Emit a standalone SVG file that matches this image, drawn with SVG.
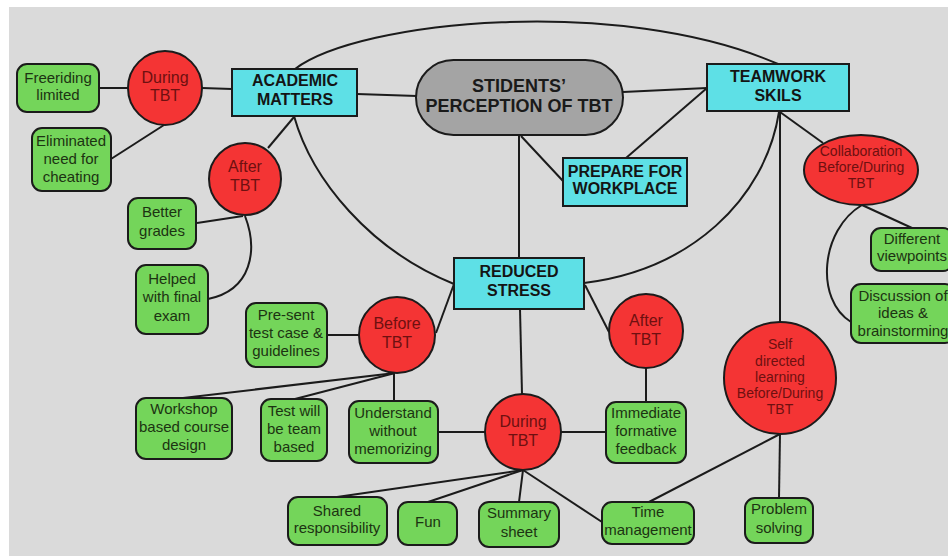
<svg xmlns="http://www.w3.org/2000/svg" width="948" height="556" viewBox="0 0 948 556">
<style>
.bg{fill:#dadada}
.c{fill:none;stroke:#1b1b1b;stroke-width:2}
.cy{fill:#5ee0e6;stroke:#1b1b1b;stroke-width:2}
.rd{fill:#f43434;stroke:#1b1b1b;stroke-width:2}
.gr{fill:#74d55a;stroke:#1b1b1b;stroke-width:2}
.gy{fill:#a4a4a4;stroke:#1b1b1b;stroke-width:2}
text{font-family:"Liberation Sans",Arial,sans-serif;text-anchor:middle}
.tb{font-size:16px;font-weight:bold;fill:#141414}
.tm{font-size:18px;font-weight:bold;fill:#1a1a1a}
.tr{font-size:16px;fill:#6e1010}
.ts{font-size:14px;fill:#6e1010}
.tg{font-size:15px;fill:#1c3312}
</style>
<rect x="0" y="0" width="948" height="556" fill="#ffffff"/>
<rect class="bg" x="9" y="7" width="939" height="549"/>
<g id="connectors">
<path class="c" d="M295,69 C360,20 620,-5 778,64"/>
<path class="c" d="M99,88 L128,88"/>
<path class="c" d="M202,88 L232,89"/>
<path class="c" d="M111,159 L164,125"/>
<path class="c" d="M357,94 L417,96"/>
<path class="c" d="M294,117 L268,148"/>
<path class="c" d="M294,116 C312,180 370,250 454,284"/>
<path class="c" d="M197,223 L243,216"/>
<path class="c" d="M245,216 C258,250 252,290 208,299"/>
<path class="c" d="M519,135 L519,258"/>
<path class="c" d="M521,136 L563,181"/>
<path class="c" d="M623,92 L707,88"/>
<path class="c" d="M626,158 L707,88"/>
<path class="c" d="M779,112 C765,200 690,270 584,283"/>
<path class="c" d="M780,111 L780,322"/>
<path class="c" d="M780,112 L823,143"/>
<path class="c" d="M862,205 L912,228"/>
<path class="c" d="M862,205 C820,230 815,300 851,322"/>
<path class="c" d="M585,285 L609,332"/>
<path class="c" d="M520,309 L522,394"/>
<path class="c" d="M454,284 L436,333"/>
<path class="c" d="M646,368 L646,402"/>
<path class="c" d="M327,335 L359,335"/>
<path class="c" d="M395,373 L183,398"/>
<path class="c" d="M395,373 L295,399"/>
<path class="c" d="M394,373 L394,401"/>
<path class="c" d="M438,432 L485,432"/>
<path class="c" d="M561,432 L606,432"/>
<path class="c" d="M523,470 L337,497"/>
<path class="c" d="M523,470 L428,502"/>
<path class="c" d="M523,470 L519,502"/>
<path class="c" d="M523,470 L602,522"/>
<path class="c" d="M780,434 L649,502"/>
<path class="c" d="M780,434 L779,498"/>
</g>
<g id="freeriding"><rect class="gr" x="17" y="64" width="82" height="48" rx="10"/><text class="tg" x="58" y="83">Freeriding</text><text class="tg" x="58" y="100">limited</text></g>
<g id="during1"><circle class="rd" cx="165" cy="88" r="37"/><text class="tr" x="165" y="83">During</text><text class="tr" x="165" y="101">TBT</text></g>
<g id="eliminated"><rect class="gr" x="32" y="128" width="79" height="63" rx="10"/><text class="tg" x="71" y="146">Eliminated</text><text class="tg" x="71" y="164">need for</text><text class="tg" x="71" y="182">cheating</text></g>
<g id="academic"><rect class="cy" x="232" y="69" width="125" height="47"/><text class="tb" x="295" y="86">ACADEMIC</text><text class="tb" x="295" y="105">MATTERS</text></g>
<g id="center"><rect class="gy" x="416" y="60" width="207" height="75" rx="37.5"/><text class="tm" x="519" y="92">STIDENTS’</text><text class="tm" x="519" y="112">PERCEPTION OF TBT</text></g>
<g id="teamwork"><rect class="cy" x="707" y="64" width="142" height="47"/><text class="tb" x="778" y="82">TEAMWORK</text><text class="tb" x="778" y="101">SKILS</text></g>
<g id="prepare"><rect class="cy" x="563" y="158" width="124" height="48"/><text class="tb" x="625" y="177">PREPARE FOR</text><text class="tb" x="625" y="194">WORKPLACE</text></g>
<g id="collaboration"><ellipse class="rd" cx="861" cy="170" rx="57" ry="35"/><text class="ts" x="861" y="156">Collaboration</text><text class="ts" x="861" y="172">Before/During</text><text class="ts" x="861" y="188">TBT</text></g>
<g id="viewpoints"><rect class="gr" x="871" y="228" width="82" height="43" rx="10"/><text class="tg" x="912" y="244">Different</text><text class="tg" x="912" y="261">viewpoints</text></g>
<g id="discussion"><rect class="gr" x="851" y="284" width="104" height="59" rx="10"/><text class="tg" x="903" y="301">Discussion of</text><text class="tg" x="903" y="318">ideas &amp;</text><text class="tg" x="903" y="336">brainstorming</text></g>
<g id="reduced"><rect class="cy" x="454" y="258" width="130" height="51"/><text class="tb" x="519" y="277">REDUCED</text><text class="tb" x="519" y="296">STRESS</text></g>
<g id="after2"><circle class="rd" cx="646" cy="331" r="37"/><text class="tr" x="646" y="326">After</text><text class="tr" x="646" y="345">TBT</text></g>
<g id="after1"><circle class="rd" cx="245" cy="179" r="36"/><text class="tr" x="245" y="172">After</text><text class="tr" x="245" y="191">TBT</text></g>
<g id="better"><rect class="gr" x="128" y="198" width="68" height="51" rx="10"/><text class="tg" x="162" y="217">Better</text><text class="tg" x="162" y="236">grades</text></g>
<g id="helped"><rect class="gr" x="136" y="265" width="72" height="69" rx="10"/><text class="tg" x="172" y="284">Helped</text><text class="tg" x="172" y="302">with final</text><text class="tg" x="172" y="321">exam</text></g>
<g id="before"><circle class="rd" cx="397" cy="335" r="38"/><text class="tr" x="397" y="329">Before</text><text class="tr" x="397" y="348">TBT</text></g>
<g id="present"><rect class="gr" x="246" y="303" width="81" height="64" rx="10"/><text class="tg" x="286" y="320">Pre-sent</text><text class="tg" x="286" y="338">test case &amp;</text><text class="tg" x="286" y="356">guidelines</text></g>
<g id="workshop"><rect class="gr" x="136" y="398" width="96" height="61" rx="10"/><text class="tg" x="184" y="414">Workshop</text><text class="tg" x="184" y="432">based course</text><text class="tg" x="184" y="450">design</text></g>
<g id="testwill"><rect class="gr" x="261" y="399" width="66" height="62" rx="10"/><text class="tg" x="294" y="416">Test will</text><text class="tg" x="294" y="434">be team</text><text class="tg" x="294" y="452">based</text></g>
<g id="understand"><rect class="gr" x="349" y="401" width="89" height="62" rx="10"/><text class="tg" x="393" y="418">Understand</text><text class="tg" x="393" y="436">without</text><text class="tg" x="393" y="454">memorizing</text></g>
<g id="during2"><circle class="rd" cx="523" cy="432" r="38"/><text class="tr" x="523" y="427">During</text><text class="tr" x="523" y="446">TBT</text></g>
<g id="immediate"><rect class="gr" x="606" y="402" width="80" height="61" rx="10"/><text class="tg" x="646" y="418">Immediate</text><text class="tg" x="646" y="436">formative</text><text class="tg" x="646" y="454">feedback</text></g>
<g id="selfdirected"><circle class="rd" cx="780" cy="378" r="56"/><text class="ts" x="780" y="349">Self</text><text class="ts" x="780" y="366">directed</text><text class="ts" x="780" y="382">learning</text><text class="ts" x="780" y="398">Before/During</text><text class="ts" x="780" y="414">TBT</text></g>
<g id="shared"><rect class="gr" x="288" y="497" width="99" height="48" rx="10"/><text class="tg" x="337" y="516">Shared</text><text class="tg" x="337" y="533">responsibility</text></g>
<g id="fun"><rect class="gr" x="398" y="502" width="59" height="43" rx="10"/><text class="tg" x="428" y="527">Fun</text></g>
<g id="summary"><rect class="gr" x="479" y="502" width="80" height="45" rx="10"/><text class="tg" x="519" y="518">Summary</text><text class="tg" x="519" y="537">sheet</text></g>
<g id="time"><rect class="gr" x="602" y="502" width="92" height="42" rx="10"/><text class="tg" x="648" y="517">Time</text><text class="tg" x="648" y="535">management</text></g>
<g id="problem"><rect class="gr" x="745" y="498" width="68" height="45" rx="10"/><text class="tg" x="779" y="514">Problem</text><text class="tg" x="779" y="533">solving</text></g>
</svg>
